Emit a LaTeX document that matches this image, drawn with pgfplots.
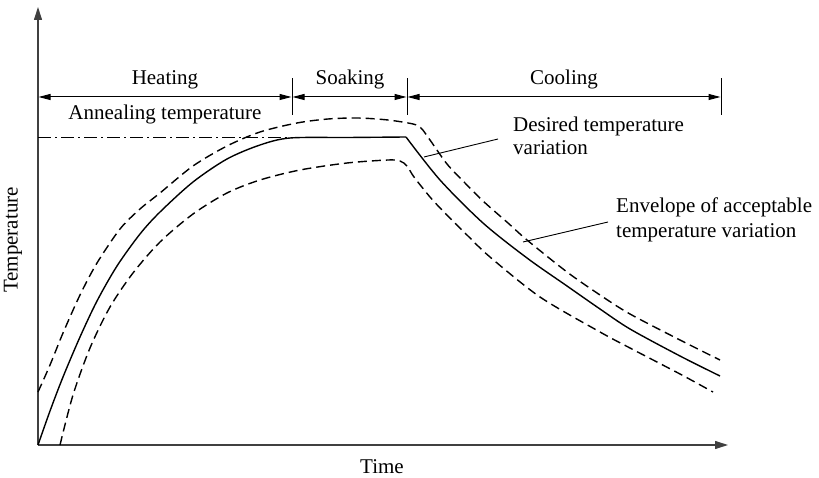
\documentclass[border=0pt]{standalone}
\usepackage{pgfplots}
\pgfplotsset{compat=1.18}
\usepackage{fontspec}
\setmainfont{Liberation Serif}
\usetikzlibrary{arrows.meta}
\tikzset{lab/.style={font=\fontsize{21bp}{23bp}\selectfont}}
\begin{document}
\begin{tikzpicture}
\useasboundingbox (-38bp,-33bp) rectangle (781bp,445bp);
\begin{axis}[
  at={(0,0)}, anchor=south west,
  scale only axis, width=690bp, height=438bp,
  xmin=0, xmax=690, ymin=0, ymax=438,
  axis lines=left,
  axis line style={black!75, line width=1.1bp, -{Triangle[length=13bp,width=8bp]}},
  xtick=\empty, ytick=\empty,
  clip=false,
]
% desired temperature (solid): heating + soaking
\addplot[black, line width=1.4bp, smooth] coordinates {
(0,0) (12,34) (25,68) (42,108) (59,144) (79,179) (102,211) (122,233)
(155,263) (189,286) (222,300) (252,307) (310,307.5) (368,308)};
% cooling
\addplot[black, line width=1.4bp, smooth] coordinates {
(368,308) (402,265) (445,222) (489,187) (529,159) (562,136) (592,116) (642,89) (682,69)};
% upper envelope
\addplot[black, line width=1.4bp, dash pattern=on 9bp off 5bp, smooth] coordinates {
(0,53) (12,80) (25,112) (42,150) (59,182) (82,216) (102,236) (122,252)
(155,279) (189,299) (222,313) (259,322) (290,326) (320,327) (350,325)
(375,321) (383,317) (392,305) (409,281) (427,262) (445,244) (470,222)
(489,205) (529,173) (562,150) (592,131) (642,105) (682,85)};
% lower envelope
\addplot[black, line width=1.4bp, dash pattern=on 9bp off 5bp, smooth] coordinates {
(22,0) (35,50) (52,97) (72,138) (95,172) (122,203) (155,231) (189,252)
(222,265) (262,275) (309,282) (350,285) (362,284) (369,279) (376,268)
(392,248) (405,234) (430,209) (452,188) (502,148) (562,113) (592,97)
(642,71) (675,53)};
% annealing temperature line
\addplot[black, line width=1bp, dash pattern=on 13bp off 4bp on 2bp off 4bp] coordinates {(0,307) (252,307)};

% stage dimension lines
\draw[black, line width=0.9bp] (axis cs:254,330) -- (axis cs:254,367);
\draw[black, line width=0.9bp] (axis cs:369,330) -- (axis cs:369,367);
\draw[black, line width=0.9bp] (axis cs:683,330) -- (axis cs:683,367);
\draw[black, line width=1bp, {Triangle[length=12bp,width=6bp]}-{Triangle[length=12bp,width=6bp]}] (axis cs:0.5,348) -- (axis cs:253.5,348);
\draw[black, line width=1bp, {Triangle[length=12bp,width=6bp]}-{Triangle[length=12bp,width=6bp]}] (axis cs:254.5,348) -- (axis cs:368.5,348);
\draw[black, line width=1bp, {Triangle[length=12bp,width=6bp]}-{Triangle[length=12bp,width=6bp]}] (axis cs:369.5,348) -- (axis cs:682.5,348);
\node[lab, anchor=base] at (axis cs:127,360) {Heating};
\node[lab, anchor=base] at (axis cs:312,360) {Soaking};
\node[lab, anchor=base] at (axis cs:526,360) {Cooling};
\node[lab, anchor=base] at (axis cs:127,325) {Annealing temperature};

% annotations
\draw[black, line width=0.9bp] (axis cs:460,306) -- (axis cs:386,288);
\node[lab, anchor=base west, inner sep=0pt] at (axis cs:475,313) {Desired temperature};
\node[lab, anchor=base west, inner sep=0pt] at (axis cs:475,290) {variation};
\draw[black, line width=0.9bp] (axis cs:570,223) -- (axis cs:485,203);
\node[lab, anchor=base west, inner sep=0pt] at (axis cs:578,232) {Envelope of acceptable};
\node[lab, anchor=base west, inner sep=0pt] at (axis cs:578,207) {temperature variation};

% axis titles
\node[lab, anchor=base, inner sep=0pt] at (axis cs:344,-28) {Time};
\node[lab, rotate=90, anchor=center] at (axis cs:-25,205) {Temperature};
\end{axis}
\end{tikzpicture}
\end{document}
